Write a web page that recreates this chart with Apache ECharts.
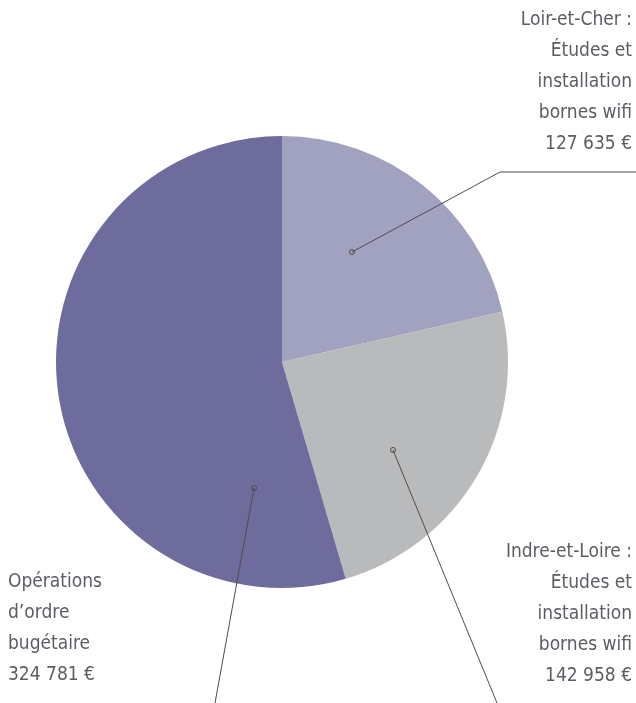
<!DOCTYPE html>
<html>
<head>
<meta charset="utf-8">
<script src="https://cdn.jsdelivr.net/npm/echarts@6/dist/echarts.min.js"></script>
<style>
  html, body { margin: 0; padding: 0; background: #fff; }
  #chart { width: 636px; height: 703px; }
</style>
</head>
<body>
<div id="chart"></div>
<script>
const names = [
  "Loir-et-Cher :\nÉtudes et\ninstallation\nbornes wifi",
  "Indre-et-Loire :\nÉtudes et\ninstallation\nbornes wifi",
  "Opérations\nd’ordre\nbugétaire"
];
const values = [127635, 142958, 324781];
const colors = ["#a1a1c0", "#b9babc", "#6e6b9d"];

// label placement (text anchor + leader line points)
const labelPos = [
  { x: 632, y: 5, align: "right", line: [[352, 252], [500, 172], [636, 172]] },
  { x: 632, y: 537, align: "right", line: [[393, 450], [497, 703]] },
  { x: 8, y: 567, align: "left", line: [[254, 488], [215, 703]] },
];

const textColor = "#5b5d63";
const lineColor = "#4d4d4d";
const fmt = (v) => String(v).replace(/\B(?=(\d{3})+(?!\d))/g, " ") + " €";

const chart = echarts.init(document.getElementById("chart"));
chart.setOption({
  animation: false,
  series: [
    {
      type: "pie",
      center: [282, 362],
      radius: 226,
      startAngle: 90,
      clockwise: true,
      avoidLabelOverlap: false,
      data: values.map((v, i) => ({ name: names[i], value: v, itemStyle: { color: colors[i] } })),
      label: {
        show: true,
        formatter: (p) => p.name + "\n" + fmt(p.value),
        color: textColor,
        fontFamily: "'Liberation Sans Narrow', 'DejaVu Sans Condensed', sans-serif",
        fontSize: 19,
        lineHeight: 31,
        overflow: "none",
        width: 200,
      },
      labelLine: { show: false },
      labelLayout: (params) => {
        const p = labelPos[params.dataIndex];
        return {
          x: p.x,
          y: p.y,
          align: p.align,
          verticalAlign: "top",
          hideOverlap: false,
        };
      },
      emphasis: { disabled: true },
    },
  ],
  graphic: labelPos.flatMap((p) => [
    {
      type: "polyline",
      shape: { points: p.line },
      style: { fill: "none", stroke: lineColor, lineWidth: 1 },
      z: 100,
    },
    {
      type: "circle",
      shape: { cx: p.line[0][0], cy: p.line[0][1], r: 2.5 },
      style: { fill: "none", stroke: lineColor, lineWidth: 1 },
      z: 101,
    },
  ]),
});
</script>
</body>
</html>
